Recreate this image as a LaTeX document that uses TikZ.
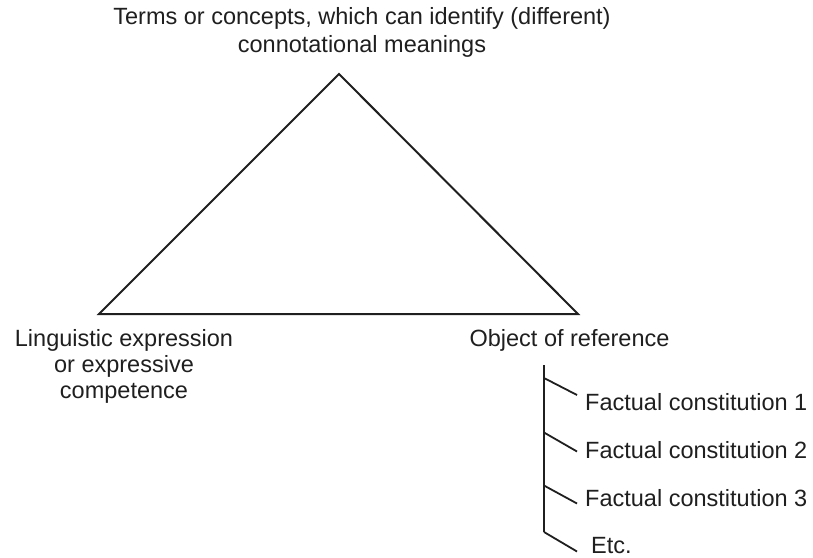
\documentclass[tikz,border=0pt]{standalone}
\usepackage{fontspec}
\setmainfont{Liberation Sans}
\begin{document}
\begin{tikzpicture}[x=1pt,y=-1pt,
  lbl/.style={inner sep=0pt,font=\fontsize{23.5}{26}\selectfont,text=black!88},
  toplbl/.style={lbl,align=center,font=\fontsize{23.5}{28}\selectfont},
  ln/.style={line width=2pt,draw=black!88},
  br/.style={line width=1.8pt,draw=black!88}]
\useasboundingbox (0,0) rectangle (813,557);
% triangle
\coordinate (apex) at (339,74);
\coordinate (L) at (99,314);
\coordinate (R) at (578,314);
\draw[ln] (apex) -- (L) -- (R) -- cycle;
% labels
\node[toplbl,anchor=base] (top) at (362,52) {Terms or concepts, which can identify (different)\\connotational meanings};
\node[toplbl,font=\fontsize{23.5}{26}\selectfont,anchor=base] (left) at (124,398) {Linguistic expression\\or expressive\\competence};
\node[lbl,anchor=base] (obj) at (569.5,346) {Object of reference};
% tree
\coordinate (vt) at (544,365);
\coordinate (b1) at (544,378);
\coordinate (b2) at (544,432.5);
\coordinate (b3) at (544,485.5);
\coordinate (b4) at (544,532);
\coordinate (e1) at (577,395);
\coordinate (e2) at (577,451.5);
\coordinate (e3) at (577,503.5);
\coordinate (e4) at (577,551.5);
\draw[br] (vt) -- (b4);
\draw[br] (b1) -- (e1);
\draw[br] (b2) -- (e2);
\draw[br] (b3) -- (e3);
\draw[br] (b4) -- (e4);
\node[lbl,anchor=base west] (f1) at (585,410) {Factual constitution 1};
\node[lbl,anchor=base west] (f2) at (585,458) {Factual constitution 2};
\node[lbl,anchor=base west] (f3) at (585,506) {Factual constitution 3};
\node[lbl,anchor=base west] (etc) at (591,553.5) {Etc.};
\end{tikzpicture}
\end{document}
